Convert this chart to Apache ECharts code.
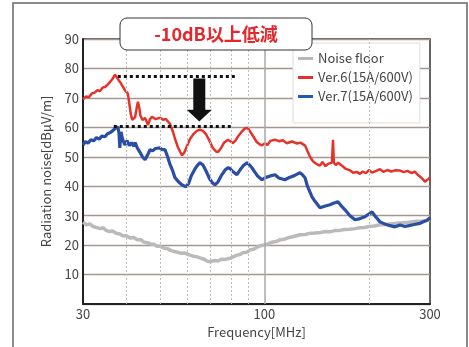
<!DOCTYPE html>
<html>
<head>
<meta charset="utf-8">
<script src="https://cdn.jsdelivr.net/npm/echarts@6/dist/echarts.min.js"></script>
<style>
html,body{margin:0;padding:0;background:#fff;}
#c{width:469px;height:347px;}
</style>
</head>
<body>
<div id="c"></div>
<script>
// ---- data ----
const xTickLabels = [30, 100, 300];
const minorGridFreqs = [40, 50, 60, 70, 80, 90, 200];
const majorGridFreqs = [100];

const noiseFreq = [30,30.7,31.4,32.1,32.8,33.6,34.3,35,35.7,36.5,37.4,38.3,39.1,40,41,42,43,44,45,46,47,48,49,50,51.2,52.5,53.7,55,56.2,57.5,59,61,62.5,64,65.5,67,68.3,69.7,70.8,72,73.5,75,77,79.6,81,83,85,87,89,90.9,93,95,97.5,100.4,102.5,105,108,110.9,114,118,122,126.6,131,135,140,145,150,154.5,160,165,170,176,182,188.5,194,200,207,215.3,222,230,240,250,260,270,285,300];
const noiseVal  = [27.8,26.9,27.2,26.3,26.0,25.6,25.9,25.0,24.6,24.8,24.0,23.8,23.2,23.2,22.4,22.6,21.8,21.8,21.0,20.8,20.4,20.3,19.6,19.6,19.0,18.8,18.2,17.8,17.6,17.2,17.3,16.6,16.2,16.0,15.6,15.2,14.6,14.3,14.6,14.8,14.6,15.2,15.1,15.6,15.9,16.5,16.8,17.5,17.6,18.4,18.6,19.2,19.8,20.1,20.4,21.0,21.2,21.8,22.0,22.6,23.0,23.5,23.6,24.0,24.1,24.3,24.6,24.5,25.0,25.0,25.3,25.4,25.6,25.9,26.0,26.3,26.5,26.9,27.0,27.2,27.4,27.6,27.8,28.0,28.2,28.5];

const ver6Freq = [30,30.6,31.2,31.8,32.4,33,33.6,34.2,34.8,35.4,36,36.5,37.1,37.6,38.3,39,39.6,40.4,40.8,41.2,41.6,42,42.4,42.9,43.2,43.6,43.9,44.5,45.3,46.2,46.8,47.4,48.5,50,51,52,53.4,54.5,55.2,56.2,57.1,57.9,58.8,60,61,62.5,64,65.2,66.5,68,69.7,71,72.5,73.5,75,76.5,78.5,80,81.1,82.5,84,86,88,89.5,91,93,95,97,98.4,100.4,102,104,107.3,110,113,116,120,124,127,131,133,135.3,138,141,144.6,147,150,152.5,154.5,156.5,157.6,158.5,160.5,163,165.1,168,171,176.4,180,185,188.5,192,196,200,204,210,215.3,220,226,232,238,246,252,258,265,271.6,276,281,286,290.2,294,297,300];
const ver6Val  = [69.5,70.5,70.2,71.5,71.8,72.6,72.3,73.5,73.8,74.6,75.6,76.5,77.9,76.8,75.5,74.0,72.6,71.5,68.0,64.5,62.5,62.0,63.5,67.0,68.7,66.5,64.0,62.5,63.2,60.8,62.8,63.6,62.8,63.2,62.6,62.8,61.2,58.5,56.2,53.5,51.8,50.5,51.5,54.0,56.0,57.8,58.9,59.2,58.8,57.5,55.0,53.0,51.8,51.6,53.0,54.8,55.8,55.2,54.6,55.5,57.0,58.5,59.7,59.8,58.5,56.8,55.0,54.2,53.9,54.6,54.0,55.4,55.8,55.3,55.6,54.6,55.2,54.5,54.8,53.8,52.0,50.0,48.5,47.6,47.0,48.2,46.8,47.6,47.4,48.0,55.8,48.0,47.2,48.0,47.5,46.8,46.0,45.4,44.6,44.8,44.2,45.0,44.4,45.5,44.6,45.2,45.8,44.9,45.5,45.0,45.4,45.3,44.8,45.2,44.5,44.9,44.0,43.2,42.4,41.5,42.0,42.5,43.0];

const ver7Freq = [30,30.5,31,31.6,32.2,32.8,33.4,34,34.7,35.3,35.9,36.5,37.1,37.8,38.1,38.3,38.6,39,39.6,40.2,40.8,41.4,42,42.4,43,43.8,44.5,45.3,46,46.8,47.6,48.5,50,50.8,51.7,52.6,53.4,54.3,55.2,56.5,57.8,59.4,60.5,61.5,63,64.2,65.2,66.5,68,69.5,71,72,73.5,75,77,78.5,79.6,81.1,83.3,85,87,89.1,91,93,95.5,98.4,101,104,107.3,110,114.6,118,122,126.6,128.5,130.9,133,135.3,137.1,140,144.6,149,154.5,158,162.9,166,170.7,176.4,182.4,188.5,194.9,199,204.2,208,215.3,222,230,237.9,246,254,262.8,270,280.8,288,294,300];
const ver7Val  = [54.0,55.2,54.6,55.8,55.4,56.5,56.0,57.0,56.8,57.8,58.2,58.8,59.6,60.2,58.0,53.0,58.5,56.0,54.0,55.5,53.8,54.8,53.6,54.8,53.0,51.5,50.0,49.0,50.5,52.4,52.0,52.8,53.0,52.4,52.4,50.0,47.5,45.5,43.0,41.5,40.5,39.8,41.0,43.5,45.8,47.2,48.0,47.2,45.0,42.5,41.0,40.5,41.5,43.5,45.5,46.3,46.0,45.0,43.9,45.5,47.0,48.0,47.0,45.5,43.5,42.2,43.0,43.5,43.9,42.8,42.2,43.0,43.6,44.6,44.0,42.9,40.0,38.0,36.4,34.8,32.7,33.2,33.7,34.2,34.7,33.5,32.0,30.0,28.6,29.0,29.6,30.4,31.3,30.0,27.9,27.2,26.6,26.2,26.8,26.3,26.7,27.0,27.4,28.0,28.4,29.3];

// annotation levels
const beforeLevel = [37.8, 83.3, 77.2];   // from freq, to freq, dB
const afterLevel  = [36.8, 81.1, 60.2];
const arrowFreq = 64.9, arrowTop = 76.6, arrowHeadTop = 66.0, arrowTip = 62.0;

const titleText = '-10dB以上低減';
const legendNames = ['Noise floor', 'Ver.6(15A/600V)', 'Ver.7(15A/600V)'];

function zip(a, b) { return a.map((v, i) => [v, b[i]]); }

const FONT = '"Noto Sans CJK JP", "Noto Sans", sans-serif';
const chart = echarts.init(document.getElementById('c'), null, {renderer: 'canvas'});

const option = {
  animation: false,
  backgroundColor: '#fff',
  textStyle: {fontFamily: FONT},
  grid: {left: 83, right: 39, top: 39, bottom: 43, show: true, borderColor: '#333', borderWidth: 1.5, backgroundColor: 'transparent'},
  xAxis: {
    type: 'log', logBase: 10, min: 30, max: 300,
    name: 'Frequency[MHz]', nameLocation: 'middle', nameGap: 19,
    nameTextStyle: {color: '#444', fontSize: 13, fontFamily: FONT},
    axisLine: {show: true, lineStyle: {color: '#222', width: 2}},
    axisTick: {show: false},
    splitLine: {show: false},
    axisLabel: {customValues: xTickLabels, color: '#444', fontSize: 13, margin: 4, fontFamily: FONT, showMinLabel: true, showMaxLabel: true}
  },
  yAxis: {
    type: 'value', min: 0, max: 90, interval: 10,
    name: 'Radiation noise[dBμV/m]', nameLocation: 'middle', nameGap: 30,
    nameTextStyle: {color: '#444', fontSize: 13, fontFamily: FONT},
    axisLine: {show: true, lineStyle: {color: '#222', width: 2}},
    axisTick: {show: false},
    splitLine: {show: true, lineStyle: {color: '#a39690', width: 1.3}},
    axisLabel: {color: '#444', fontSize: 13, margin: 4, fontFamily: FONT,
      formatter: v => (v === 0 ? '' : String(v))}
  },
  legend: {
    orient: 'vertical', left: 293, top: 43,
    padding: [9, 7, 20, 5],
    itemGap: 6,
    itemWidth: 15, itemHeight: 3, icon: 'rect',
    backgroundColor: '#fff', borderColor: '#ddd', borderWidth: 1,
    textStyle: {color: '#444', fontSize: 13, fontFamily: FONT},
    data: legendNames
  },
  series: [
    {
      name: 'grid', type: 'line', data: [], z: 1, silent: true,
      markLine: {
        silent: true, symbol: 'none', label: {show: false}, animation: false,
        data: minorGridFreqs.map(f => ({xAxis: f, lineStyle: {color: '#bdbdbd', type: [2, 2], width: 1}}))
          .concat(majorGridFreqs.map(f => ({xAxis: f, lineStyle: {color: '#a9a9a9', type: 'solid', width: 1.5}})))
      }
    },
    {
      name: legendNames[0], type: 'line', data: zip(noiseFreq, noiseVal), showSymbol: false, z: 3,
      color: '#b8b8b8', lineStyle: {width: 3.5, color: '#bababa'}
    },
    {
      name: legendNames[1], type: 'line', data: zip(ver6Freq, ver6Val), showSymbol: false, z: 4,
      color: '#e8302a', lineStyle: {width: 2.5, color: '#e5332a'}
    },
    {
      name: legendNames[2], type: 'line', data: zip(ver7Freq, ver7Val), showSymbol: false, z: 4,
      color: '#1e5bb5', lineStyle: {width: 3.2, color: '#2a4ea5'}
    },
    {
      name: 'levels', type: 'line', data: [], z: 6, silent: true,
      markLine: {
        silent: true, symbol: 'none', label: {show: false}, animation: false,
        lineStyle: {color: '#111', type: [3, 3], width: 3},
        data: [
          [{coord: [beforeLevel[0], beforeLevel[2]]}, {coord: [beforeLevel[1], beforeLevel[2]]}],
          [{coord: [afterLevel[0], afterLevel[2]]}, {coord: [afterLevel[1], afterLevel[2]]}]
        ]
      }
    }
  ]
};
chart.setOption(option);

// arrow + title box drawn via scale conversion
const p = (f, v) => chart.convertToPixel({xAxisIndex: 0, yAxisIndex: 0}, [f, v]);
const a0 = p(arrowFreq, arrowTop), a1 = p(arrowFreq, arrowHeadTop), a2 = p(arrowFreq, arrowTip);
const cx = a0[0], sw = 6, hw = 12.5;
chart.setOption({
  graphic: [
    {type: 'rect', shape: {x: 13, y: 3, width: 454, height: 360}, style: {fill: 'none', stroke: '#666', lineWidth: 1.5}, z: 0, silent: true},
    {type: 'polygon', z: 20, shape: {points: [[cx - sw, a0[1]], [cx + sw, a0[1]], [cx + sw, a1[1]], [cx + hw, a1[1]], [cx, a2[1]], [cx - hw, a1[1]], [cx - sw, a1[1]]]}, style: {fill: '#111'}},
    {type: 'rect', z: 30, shape: {x: 120, y: 18, width: 192, height: 32, r: 7}, style: {fill: '#fff', stroke: '#333', lineWidth: 1}},
    {type: 'text', z: 31, x: 216, y: 34, style: {text: titleText, fill: '#e8262a', font: 'bold 18px ' + FONT, textAlign: 'center', textVerticalAlign: 'middle'}}
  ]
});
</script>
</body>
</html>
